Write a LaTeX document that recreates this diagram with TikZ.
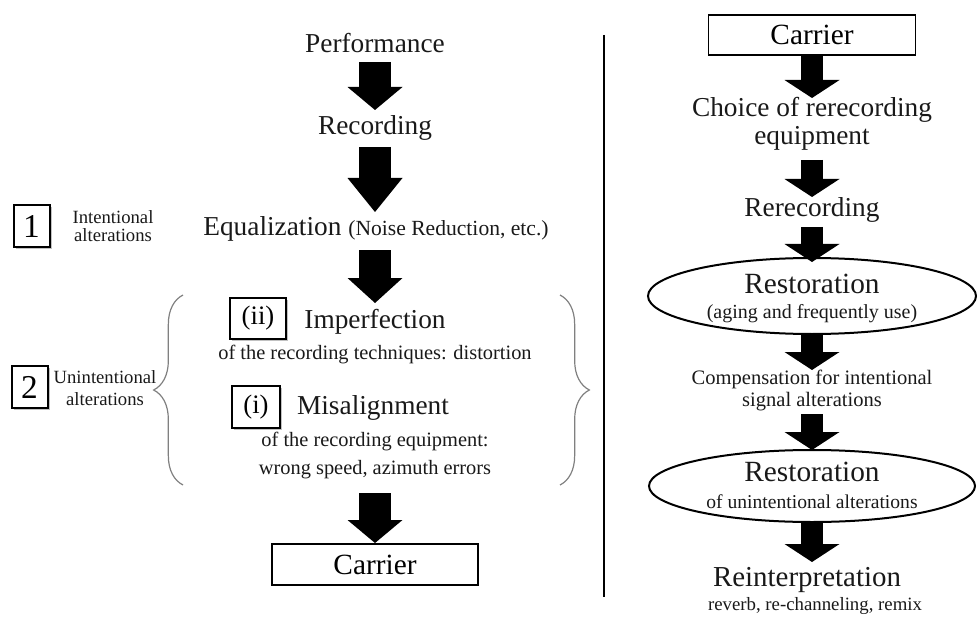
\documentclass[tikz,border=0pt]{standalone}
\usepackage{fontspec}
\setmainfont{Liberation Serif}
\usetikzlibrary{arrows.meta,shapes.geometric,decorations.pathreplacing,shadows}
\begin{document}
\begin{tikzpicture}[x=0.75pt,y=-0.75pt,
  txt/.style={inner sep=0pt, align=center, text=black!90},
  big/.style={txt, font=\fontsize{20.5}{21}\selectfont},
  bigger/.style={txt, font=\fontsize{22}{24}\selectfont},
  mid/.style={txt, font=\fontsize{15.3}{21}\selectfont},
  side/.style={txt, font=\fontsize{14}{13.5}\selectfont},
  shbox/.style={draw, line width=1.5pt, fill=white, inner sep=0pt,
    drop shadow={shadow xshift=1.6pt, shadow yshift=-1.6pt, fill=black!30, opacity=0.8}},
  numbox/.style={shbox, font=\fontsize{25}{25}\selectfont, minimum width=27pt, minimum height=31.5pt},
  romanbox/.style={shbox, font=\fontsize{20}{20}\selectfont, minimum height=31pt},
  carbox/.style={draw, line width=1.1pt, inner sep=0pt, font=\fontsize{22}{24}\selectfont},
  ellbox/.style={draw, ellipse, line width=1.5pt, inner sep=0pt},
  fatL/.style={line width=24pt, -{Triangle[width=41.25pt 0 0, length=#1 0 0, line width=0pt 0 0]}},
  fatR/.style={line width=16.5pt, -{Triangle[width=41.25pt 0 0, length=13.5pt 0 0, line width=0pt 0 0]}},
  bracestyle/.style={draw=black!50, line width=0.9pt, decorate, decoration={brace, amplitude=22pt}}
]
\useasboundingbox (0,0) rectangle (977,620);

% ---------------- left column ----------------
\node[big] (perf) at (375,43) {Performance};
\node[big] (rec) at (375,128) {Recording};
\node[big] (equal) at (376,229) {Equalization {\fontsize{16.2}{18}\selectfont (Noise Reduction, etc.)}};

\node[numbox] (box1) at (31.5,226) {1};
\node[side] (lab1) at (113,226) {Intentional\\alterations};
\node[numbox] (box2) at (29.5,387) {2};
\node[side, font=\fontsize{14}{16.5}\selectfont] (lab2) at (105,388) {Unintentional\\alterations};

\node[romanbox, minimum width=42pt] (boxii) at (258,318.5) {(ii)};
\node[big] (imp) at (375,322) {Imperfection};
\node[mid] (impd) at (375,355) {of the recording techniques: distortion};
\node[romanbox, minimum width=36pt] (boxi) at (256,407) {(i)};
\node[big] (mis) at (373,408) {Misalignment};
\node[mid] (mis2) at (375,456) {of the recording equipment:\\wrong speed, azimuth errors};

\node[carbox, minimum width=154.5pt, minimum height=30.75pt] (carL) at (375,564.5) {Carrier};

\draw[bracestyle] (183,485) -- (183,295);
\draw[bracestyle] (560,295) -- (560,485);

\draw[fatL=17.25pt, shorten <=14.25pt, shorten >=13.5pt] (perf.center) -- (rec.center);
\draw[fatL=25.5pt, shorten <=14.25pt, shorten >=12.75pt] (rec.center) -- (rec.center |- equal.center);
\draw[fatL=18.75pt, shorten <=15.75pt, shorten >=14.25pt] (rec.center |- equal.center) -- (imp.center);
\draw[fatL=17.25pt, shorten <=27.75pt, shorten >=16.125pt] (mis2.center) -- (carL.center);

% ---------------- divider ----------------
\draw[line width=2.2pt] (604,35) -- (604,597);

% ---------------- right column ----------------
\node[carbox, minimum width=155.25pt, minimum height=30pt] (carR) at (812,35) {Carrier};
\node[big] (choice) at (812,124) {Choice of rerecording\\equipment};
\node[big] (rerec) at (812,210) {Rerecording};
\node[ellbox, minimum width=246pt, minimum height=57pt] (ell1) at (812,296) {};
\node[bigger] (rest1) at (812,284) {Restoration};
\node[txt, font=\fontsize{15}{16}\selectfont] (aging) at (812,314) {(aging and frequently use)};
\node[txt, font=\fontsize{15.4}{16.5}\selectfont] (comp) at (812,390.5) {Compensation for intentional\\signal alterations};
\node[ellbox, minimum width=244.5pt, minimum height=54pt] (ell2) at (812,486) {};
\node[bigger] (rest2) at (812,472) {Restoration};
\node[txt, font=\fontsize{14.7}{16}\selectfont] (unint) at (812,502) {of unintentional alterations};
\node[txt, font=\fontsize{21.7}{24}\selectfont] (reint) at (807,580) {Reinterpretation};
\node[txt, font=\fontsize{14.1}{16}\selectfont] (remix) at (815,606) {reverb, re-channeling, remix};

\draw[fatR, shorten <=15pt, shorten >=19.5pt] (carR.center) -- (choice.center);
\draw[fatR, shorten <=27pt, shorten >=9.75pt] (choice.center) -- (rerec.center);
\draw[fatR, shorten <=12.75pt, shorten >=25.5pt] (rerec.center) -- (ell1.center);
\draw[fatR, shorten <=29.25pt, shorten >=15.375pt] (ell1.center) -- (comp.center);
\draw[fatR, shorten <=17.625pt, shorten >=27pt] (comp.center) -- (ell2.center);
\draw[fatR, shorten <=27.75pt, shorten >=13.5pt] (ell2.center) -- (ell2.center |- reint.center);
\end{tikzpicture}
\end{document}
